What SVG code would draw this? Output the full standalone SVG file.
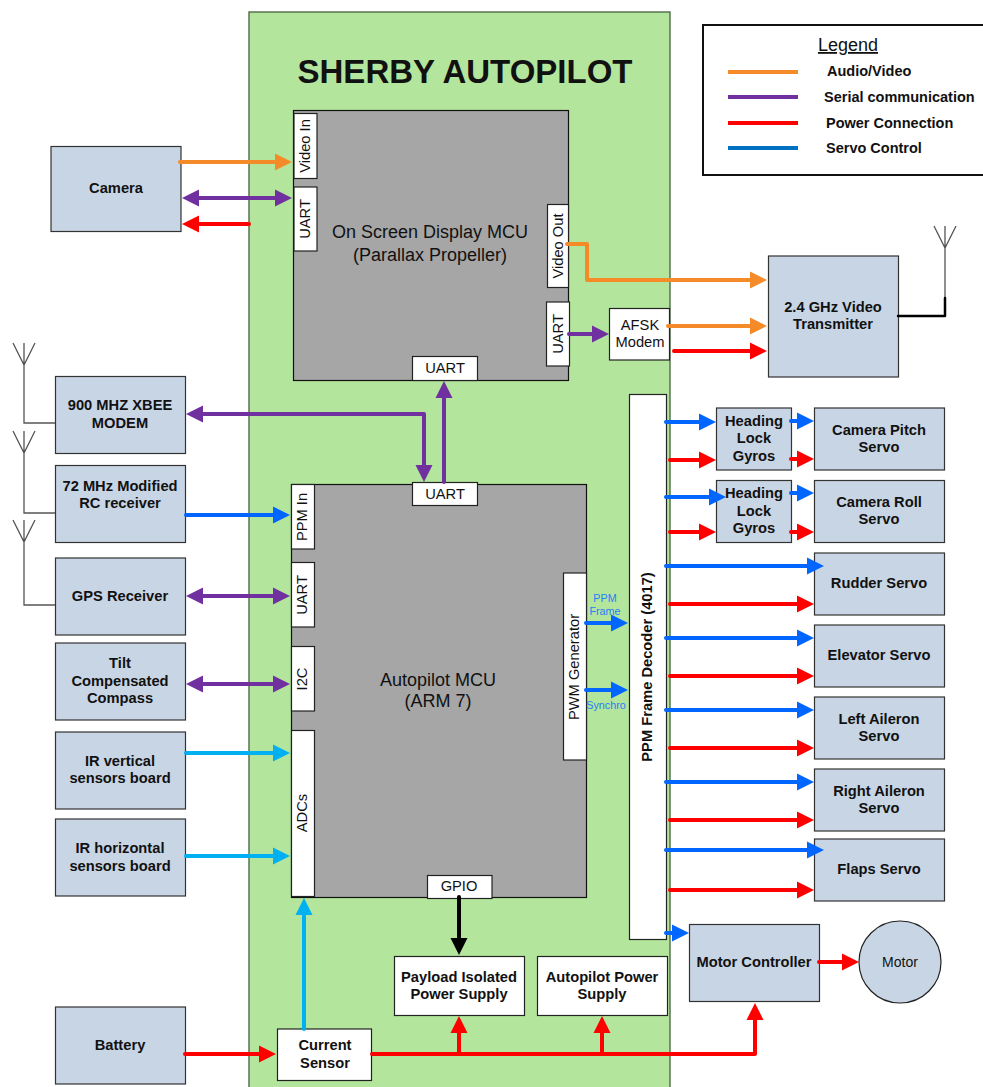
<svg xmlns="http://www.w3.org/2000/svg" width="983" height="1087" viewBox="0 0 983 1087">
<style>
text{font-family:"Liberation Sans",Arial,sans-serif;text-anchor:middle;fill:#111}
.b{font-weight:bold;font-size:14.7px}
.r{font-size:14.7px}
.m{font-size:18px}
.l{font-weight:bold;font-size:14.5px;text-anchor:start}
.s{font-size:10.8px;fill:#2a7df5}
.box{fill:#c8d5e5;stroke:#333;stroke-width:1.2}
.w{fill:#fff;stroke:#222;stroke-width:1.2}
.g{fill:#a6a6a6;stroke:#111;stroke-width:1.2}
.c path{fill:none;stroke-width:4;stroke-linecap:round;stroke-linejoin:round}
.o{stroke:#f58a28}.p{stroke:#7030a0}.e{stroke:#ff0000}.u{stroke:#0066ff}.y{stroke:#00b0f0}.k{stroke:#000}
.o2{marker-end:url(#mo)}.p2{marker-end:url(#mp);marker-start:url(#mps)}.p1{marker-end:url(#mp)}.e2{marker-end:url(#me)}.u2{marker-end:url(#mu)}.y2{marker-end:url(#my)}.k2{marker-end:url(#mk)}
.ant path{fill:none;stroke:#555;stroke-width:1.3}
</style>
<defs>
<marker id="mo" markerUnits="userSpaceOnUse" markerWidth="18" markerHeight="18" refX="1" refY="9" orient="auto"><path d="M0 0.500L17 9L0 17.500Z" fill="#f58a28"/></marker>
<marker id="mp" markerUnits="userSpaceOnUse" markerWidth="18" markerHeight="18" refX="1" refY="9" orient="auto"><path d="M0 0.500L17 9L0 17.500Z" fill="#7030a0"/></marker>
<marker id="mps" markerUnits="userSpaceOnUse" markerWidth="18" markerHeight="18" refX="1" refY="9" orient="auto-start-reverse"><path d="M0 0.500L17 9L0 17.500Z" fill="#7030a0"/></marker>
<marker id="me" markerUnits="userSpaceOnUse" markerWidth="18" markerHeight="18" refX="1" refY="9" orient="auto"><path d="M0 0.500L17 9L0 17.500Z" fill="#ff0000"/></marker>
<marker id="mu" markerUnits="userSpaceOnUse" markerWidth="18" markerHeight="18" refX="1" refY="9" orient="auto"><path d="M0 0.500L17 9L0 17.500Z" fill="#0066ff"/></marker>
<marker id="my" markerUnits="userSpaceOnUse" markerWidth="18" markerHeight="18" refX="1" refY="9" orient="auto"><path d="M0 0.500L17 9L0 17.500Z" fill="#00b0f0"/></marker>
<marker id="mk" markerUnits="userSpaceOnUse" markerWidth="18" markerHeight="18" refX="1" refY="9" orient="auto"><path d="M0 0.500L17 9L0 17.500Z" fill="#000"/></marker>
</defs>
<rect width="983" height="1087" fill="#fff"/>
<g id="autopilot-board"><rect x="249" y="12" width="421" height="1080" fill="#b3e69c" stroke="#4f6b4a" stroke-width="1.4"/>
<text x="465" y="83" style="font-weight:bold;font-size:33px">SHERBY AUTOPILOT</text></g>

<g id="legend"><rect x="703" y="25" width="285" height="150" fill="#fff" stroke="#111" stroke-width="2"/>
<text x="848" y="51" style="font-size:18px;text-decoration:underline">Legend</text>
<path d="M728 72H798" stroke="#f58a28" stroke-width="4"/><path d="M728 97H798" stroke="#7030a0" stroke-width="4"/><path d="M728 123H798" stroke="#ff0000" stroke-width="4"/><path d="M728 148H798" stroke="#0070c0" stroke-width="4"/>
<text class="l" x="827" y="76">Audio/Video</text><text class="l" x="824" y="102">Serial communication</text><text class="l" x="826" y="128">Power Connection</text><text class="l" x="826" y="153">Servo Control</text></g>

<g id="osd-mcu"><rect class="g" x="293.500" y="110.500" width="275" height="270"/>
<text class="m" x="430" y="238">On Screen Display MCU</text><text class="m" x="430" y="261">(Parallax Propeller)</text></g>
<g id="osd-video-in"><rect class="w" x="294" y="113.500" width="23" height="65"/><text class="r" transform="translate(310,146) rotate(-90)">Video In</text></g>
<g id="osd-uart1"><rect class="w" x="294" y="187" width="23" height="64"/><text class="r" transform="translate(310,219) rotate(-90)">UART</text></g>
<g id="osd-video-out"><rect class="w" x="547.500" y="204.500" width="21" height="83"/><text class="r" transform="translate(563,246) rotate(-90)">Video Out</text></g>
<g id="osd-uart2"><rect class="w" x="546.500" y="302" width="23" height="64"/><text class="r" transform="translate(563,334) rotate(-90)">UART</text></g>
<g id="osd-uart3"><rect class="w" x="412.500" y="356.500" width="65" height="24"/><text class="r" x="445" y="373">UART</text></g>
<g id="afsk"><rect class="w" x="609.500" y="308.500" width="60" height="51.500"/><text class="r" x="640" y="330">AFSK</text><text class="r" x="640" y="347">Modem</text></g>

<g id="ap-mcu"><rect class="g" x="291.500" y="484.500" width="295" height="413"/>
<text class="m" x="438" y="686">Autopilot MCU</text><text class="m" x="438" y="707">(ARM 7)</text></g>
<g id="ap-uart-top"><rect class="w" x="412.500" y="482.500" width="65" height="23"/><text class="r" x="445" y="499">UART</text></g>
<g id="ap-ppm"><rect class="w" x="291.500" y="484.500" width="23" height="64.500"/><text class="r" transform="translate(307,517) rotate(-90)">PPM In</text></g>
<g id="ap-uart"><rect class="w" x="291.500" y="562.500" width="23" height="64.500"/><text class="r" transform="translate(307,595) rotate(-90)">UART</text></g>
<g id="ap-i2c"><rect class="w" x="291.500" y="646.500" width="23" height="64.500"/><text class="r" transform="translate(307,679) rotate(-90)">I2C</text></g>
<g id="ap-adc"><rect class="w" x="291.500" y="730.500" width="23" height="166"/><text class="r" transform="translate(307,813) rotate(-90)">ADCs</text></g>
<g id="ap-pwm"><rect class="w" x="563.500" y="573" width="23" height="187"/><text class="r" transform="translate(579,667) rotate(-90)">PWM Generator</text></g>
<g id="ap-gpio"><rect class="w" x="427.500" y="875.500" width="64.500" height="23"/><text class="r" x="459" y="891">GPIO</text></g>

<g id="ppm-decoder"><rect class="w" x="629.500" y="394.500" width="37" height="545"/><text class="b" transform="translate(652,667) rotate(-90)">PPM Frame Decoder (4017)</text></g>

<g id="camera"><rect class="box" x="51" y="146.500" width="130" height="85"/><text class="b" x="116" y="193">Camera</text></g>
<g id="xbee"><rect class="box" x="55.500" y="376.500" width="130" height="77"/><text class="b" x="120" y="410">900 MHZ XBEE</text><text class="b" x="120" y="428">MODEM</text></g>
<g id="rc"><rect class="box" x="55.500" y="465.500" width="130" height="77"/><text class="b" x="120" y="491">72 MHz Modified</text><text class="b" x="120" y="508">RC receiver</text></g>
<g id="gps"><rect class="box" x="55.500" y="558" width="130" height="77"/><text class="b" x="120" y="601">GPS Receiver</text></g>
<g id="compass"><rect class="box" x="55.500" y="643" width="130" height="77"/><text class="b" x="120" y="668">Tilt</text><text class="b" x="120" y="686">Compensated</text><text class="b" x="120" y="703">Compass</text></g>
<g id="ir-v"><rect class="box" x="55.500" y="732" width="130" height="77"/><text class="b" x="120" y="766">IR vertical</text><text class="b" x="120" y="783">sensors board</text></g>
<g id="ir-h"><rect class="box" x="55.500" y="819" width="130" height="77"/><text class="b" x="120" y="853">IR horizontal</text><text class="b" x="120" y="871">sensors board</text></g>
<g id="battery"><rect class="box" x="55.500" y="1007" width="130" height="77"/><text class="b" x="120" y="1050">Battery</text></g>

<g id="video-tx"><rect class="box" x="768.500" y="256" width="130" height="121"/><text class="b" x="833" y="312">2.4 GHz Video</text><text class="b" x="833" y="329">Transmitter</text></g>
<g id="gyro1"><rect class="box" x="716.500" y="408" width="75" height="62"/><text class="b" x="754" y="426">Heading</text><text class="b" x="754" y="443">Lock</text><text class="b" x="754" y="461">Gyros</text></g>
<g id="gyro2"><rect class="box" x="716.500" y="480.500" width="75" height="62"/><text class="b" x="754" y="498">Heading</text><text class="b" x="754" y="516">Lock</text><text class="b" x="754" y="533">Gyros</text></g>
<g id="pitch"><rect class="box" x="814.500" y="408" width="130" height="62"/><text class="b" x="879" y="435">Camera Pitch</text><text class="b" x="879" y="452">Servo</text></g>
<g id="roll"><rect class="box" x="814.500" y="480.500" width="130" height="62"/><text class="b" x="879" y="507">Camera Roll</text><text class="b" x="879" y="524">Servo</text></g>
<g id="rudder"><rect class="box" x="814.500" y="553" width="130" height="62"/><text class="b" x="879" y="588">Rudder Servo</text></g>
<g id="elevator"><rect class="box" x="814.500" y="625" width="130" height="62"/><text class="b" x="879" y="660">Elevator Servo</text></g>
<g id="left-aileron"><rect class="box" x="814.500" y="697" width="130" height="62"/><text class="b" x="879" y="724">Left Aileron</text><text class="b" x="879" y="741">Servo</text></g>
<g id="right-aileron"><rect class="box" x="814.500" y="769" width="130" height="62"/><text class="b" x="879" y="796">Right Aileron</text><text class="b" x="879" y="813">Servo</text></g>
<g id="flaps"><rect class="box" x="814.500" y="839" width="130" height="62"/><text class="b" x="879" y="874">Flaps Servo</text></g>
<g id="motor-controller"><rect class="box" x="689.500" y="924.500" width="130" height="77"/><text class="b" x="754" y="967">Motor Controller</text></g>
<g id="motor"><circle cx="900" cy="962" r="41" fill="#c8d5e5" stroke="#222" stroke-width="1.2"/><text x="900" y="967" style="font-size:14px">Motor</text></g>
<g id="current-sensor"><rect class="w" x="277.500" y="1029" width="94" height="51.500"/><text class="b" x="325" y="1050">Current</text><text class="b" x="325" y="1068">Sensor</text></g>
<g id="payload-ps"><rect class="w" x="394.500" y="956.500" width="130" height="59"/><text class="b" x="459" y="982">Payload Isolated</text><text class="b" x="459" y="999">Power Supply</text></g>
<g id="ap-ps"><rect class="w" x="537.500" y="956.500" width="130" height="59"/><text class="b" x="602" y="982">Autopilot Power</text><text class="b" x="602" y="999">Supply</text></g>

<g id="antennas" class="ant">
<path d="M13 343L24 365L35 343M24 343V423H55"/>
<path d="M13 431L24 453L35 431M24 431V513H55"/>
<path d="M13 520L24 542L35 520M24 520V605H55"/>
<path d="M934 226L945 248L956 226M945 226V298"/>
</g>

<g id="connectors" class="c">
<path d="M898 316H945V298" style="stroke:#000;stroke-width:2.500"/>
<path class="o o2" d="M180 162H276"/>
<path class="p p2" d="M198 198H276"/>
<path class="e e2" d="M249 224H198"/>
<path class="o o2" d="M567 244H587V280H751"/>
<path class="o o2" d="M668 326H751"/>
<path class="e e2" d="M674 351H751"/>
<path class="p p1" d="M569 334H593"/>
<path class="p p2" d="M202 414H424V466"/>
<path class="p p1" d="M444 482V397"/>
<path class="u u2" d="M186 515H274"/>
<path class="p p2" d="M202 596H274"/>
<path class="p p2" d="M202 684H274"/>
<path class="y y2" d="M186 753H274"/>
<path class="y y2" d="M186 856H274"/>
<path class="y y2" d="M304 1029V914"/>
<path class="u u2" d="M586 623H612"/>
<path class="u u2" d="M586 690H612"/>
<path class="u u2" d="M666 422H700"/>
<path class="e e2" d="M670 460H700"/>
<path class="u u2" d="M791 421H798"/>
<path class="e e2" d="M791 459H798"/>
<path class="u u2" d="M666 497H710"/>
<path class="e e2" d="M670 532H700"/>
<path class="u u2" d="M791 493H798"/>
<path class="e e2" d="M791 532H798"/>
<path class="u u2" d="M666 566H808"/>
<path class="e e2" d="M670 604H798"/>
<path class="u u2" d="M666 638H798"/>
<path class="e e2" d="M670 676H798"/>
<path class="u u2" d="M666 710H798"/>
<path class="e e2" d="M670 748H798"/>
<path class="u u2" d="M666 782H798"/>
<path class="e e2" d="M670 820H798"/>
<path class="u u2" d="M666 850H808"/>
<path class="e e2" d="M670 890H798"/>
<path class="u u2" d="M666 933H673"/>
<path class="e e2" d="M819 962H843"/>
<path class="k k2" d="M459 897V939"/>
<path class="e e2" d="M185 1054H260"/>
<path class="e e2" d="M372 1054H755V1019"/>
<path class="e e2" d="M459 1054V1032"/>
<path class="e e2" d="M602 1054V1032"/>
</g>
<g id="connector-labels"><text class="s" x="605" y="602">PPM</text><text class="s" x="605" y="615">Frame</text><text class="s" x="606" y="709">Synchro</text></g>
</svg>
